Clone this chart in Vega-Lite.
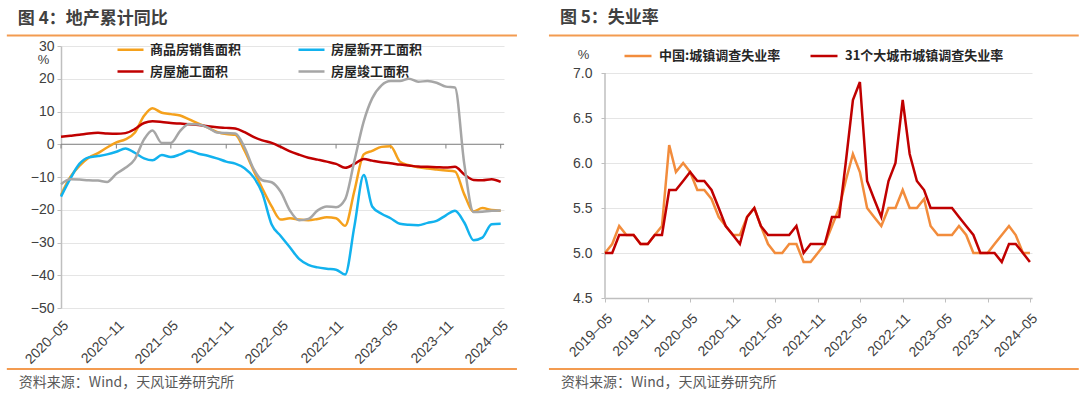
{
  "$schema": "https://vega.github.io/schema/vega-lite/v6.json",
  "background": "white",
  "padding": {"left": 5, "top": 9, "right": 0, "bottom": 0},
  "config": {
    "view": {"stroke": null},
    "font": "Liberation Sans",
    "axis": {"labelFont": "Liberation Sans", "labelFontSize": 14, "labelColor": "#404040", "titleFont": "Liberation Sans"},
    "legend": {"labelFont": "Noto Sans CJK SC"}
  },
  "resolve": {"scale": {"x": "independent", "y": "independent", "color": "independent"}, "legend": {"color": "independent"}, "axis": {"x": "independent", "y": "independent"}},
  "columns": 2,
  "align": "none",
  "spacing": 29,
  "concat": [
    {
      "width": 443,
      "height": 262,
      "title": {"text": "图 4：地产累计同比", "anchor": "start", "frame": "bounds", "font": "Noto Sans CJK SC", "fontSize": 17, "fontWeight": "bold", "color": "#404040", "dx": 12, "offset": 7},
      "layer": [
        {
          "data": {"values": [{}]},
          "mark": {"type": "rule", "color": "#808080", "strokeWidth": 1},
          "encoding": {
            "y": {
              "datum": 0, "type": "quantitative",
              "scale": {"domain": [-50, 30], "nice": false, "zero": false},
              "axis": {
                "tickCount": 9, "values": [-50, -40, -30, -20, -10, 0, 10, 20, 30],
                "grid": true, "gridColor": "#E5E5E5", "domainColor": "#BFBFBF", "domainWidth": 1.5,
                "tickColor": "#BFBFBF", "tickSize": 4, "labelPadding": 3, "labelOverlap": false, "labelSeparation": 0, "labelBound": false,
                "title": "%", "titleAngle": 0, "titleX": -18, "titleY": 13, "titleAlign": "center", "titleBaseline": "middle",
                "titleFontSize": 13, "titleFontWeight": "normal", "titleColor": "#404040"
              }
            }
          }
        },
        {
          "data": {"values": [{"t": "2020-05-01"}, {"t": "2020-11-01"}, {"t": "2021-05-01"}, {"t": "2021-11-01"}, {"t": "2022-05-01"}, {"t": "2022-11-01"}, {"t": "2023-05-01"}, {"t": "2023-11-01"}, {"t": "2024-05-01"}]},
          "mark": {"type": "rule", "color": "#808080", "strokeWidth": 1},
          "encoding": {
            "x": {"field": "t", "type": "temporal", "scale": {"type": "utc", "domain": [{"year": 2020, "month": 5, "date": 1, "utc": true}, {"year": 2024, "month": 5, "date": 12, "utc": true}], "nice": false}},
            "y": {"datum": 0, "type": "quantitative", "scale": {"domain": [-50, 30], "nice": false, "zero": false}},
            "y2": {"datum": -1.3}
          }
        },
        {
          "data": {"values": [{}]},
          "mark": {"type": "rule", "color": "#F39B50", "strokeWidth": 2},
          "encoding": {
            "x": {"datum": {"year": 2019, "month": 11, "date": 3, "utc": true}, "type": "temporal", "scale": {"type": "utc", "domain": [{"year": 2020, "month": 5, "date": 1, "utc": true}, {"year": 2024, "month": 5, "date": 12, "utc": true}], "nice": false}},
            "x2": {"datum": {"year": 2024, "month": 6, "date": 24, "utc": true}},
            "y": {"datum": 33.2, "type": "quantitative", "scale": {"domain": [-50, 30], "nice": false, "zero": false}}
          }
        },
        {
          "data": {"values": [{}]},
          "mark": {"type": "rule", "color": "#F39B50", "strokeWidth": 2},
          "encoding": {
            "x": {"datum": {"year": 2019, "month": 11, "date": 3, "utc": true}, "type": "temporal", "scale": {"type": "utc", "domain": [{"year": 2020, "month": 5, "date": 1, "utc": true}, {"year": 2024, "month": 5, "date": 12, "utc": true}], "nice": false}},
            "x2": {"datum": {"year": 2024, "month": 6, "date": 24, "utc": true}},
            "y": {"datum": -68.6, "type": "quantitative", "scale": {"domain": [-50, 30], "nice": false, "zero": false}}
          }
        },
        {
          "data": {"values": [{"t": "资料来源：Wind，天风证券研究所"}]},
          "mark": {"type": "text", "align": "left", "baseline": "middle", "font": "Noto Sans CJK SC", "fontSize": 14, "color": "#595959"},
          "encoding": {
            "text": {"field": "t"},
            "x": {"datum": {"year": 2019, "month": 12, "date": 13, "utc": true}, "type": "temporal", "scale": {"type": "utc", "domain": [{"year": 2020, "month": 5, "date": 1, "utc": true}, {"year": 2024, "month": 5, "date": 12, "utc": true}], "nice": false}},
            "y": {"datum": -72.9, "type": "quantitative", "scale": {"domain": [-50, 30], "nice": false, "zero": false}}
          }
        },
        {
          "data": {"values": [
            {"d": "2020-05-01", "商品房销售面积": -15.5, "房屋新开工面积": -16.0, "房屋施工面积": 2.3, "房屋竣工面积": -12.2},
            {"d": "2020-06-01", "商品房销售面积": -10.0, "房屋新开工面积": -10.5, "房屋施工面积": 2.6, "房屋竣工面积": -10.7},
            {"d": "2020-07-01", "商品房销售面积": -6.6, "房屋新开工面积": -6.0, "房屋施工面积": 2.9, "房屋竣工面积": -10.8},
            {"d": "2020-08-01", "商品房销售面积": -4.1, "房屋新开工面积": -4.0, "房屋施工面积": 3.3, "房屋竣工面积": -11.0},
            {"d": "2020-09-01", "商品房销售面积": -2.7, "房屋新开工面积": -3.6, "房屋施工面积": 3.5, "房屋竣工面积": -11.1},
            {"d": "2020-10-01", "商品房销售面积": -1.0, "房屋新开工面积": -3.1, "房屋施工面积": 3.3, "房屋竣工面积": -11.5},
            {"d": "2020-11-01", "商品房销售面积": 0.6, "房屋新开工面积": -2.3, "房屋施工面积": 3.2, "房屋竣工面积": -9.0},
            {"d": "2020-12-01", "商品房销售面积": 1.5, "房屋新开工面积": -1.3, "房屋施工面积": 3.4, "房屋竣工面积": -7.2},
            {"d": "2021-01-01", "商品房销售面积": 3.5, "房屋新开工面积": -2.6, "房屋施工面积": 4.6, "房屋竣工面积": -4.6},
            {"d": "2021-02-01", "商品房销售面积": 8.7, "房屋新开工面积": -4.3, "房屋施工面积": 6.5, "房屋竣工面积": 1.5},
            {"d": "2021-03-01", "商品房销售面积": 11.0, "房屋新开工面积": -4.9, "房屋施工面积": 7.0, "房屋竣工面积": 4.2},
            {"d": "2021-04-01", "商品房销售面积": 9.6, "房屋新开工面积": -3.3, "房屋施工面积": 6.8, "房屋竣工面积": 0.4},
            {"d": "2021-05-01", "商品房销售面积": 9.2, "房屋新开工面积": -3.9, "房屋施工面积": 6.5, "房屋竣工面积": 0.4},
            {"d": "2021-06-01", "商品房销售面积": 8.8, "房屋新开工面积": -3.1, "房屋施工面积": 6.3, "房屋竣工面积": 4.1},
            {"d": "2021-07-01", "商品房销售面积": 7.6, "房屋新开工面积": -2.0, "房屋施工面积": 6.1, "房屋竣工面积": 6.2},
            {"d": "2021-08-01", "商品房销售面积": 6.3, "房屋新开工面积": -2.9, "房屋施工面积": 5.9, "房屋竣工面积": 6.0},
            {"d": "2021-09-01", "商品房销售面积": 5.1, "房屋新开工面积": -3.5, "房屋施工面积": 5.5, "房屋竣工面积": 5.1},
            {"d": "2021-10-01", "商品房销售面积": 3.8, "房屋新开工面积": -4.3, "房屋施工面积": 5.2, "房屋竣工面积": 3.6},
            {"d": "2021-11-01", "商品房销售面积": 3.1, "房屋新开工面积": -5.3, "房屋施工面积": 5.0, "房屋竣工面积": 3.4},
            {"d": "2021-12-01", "商品房销售面积": 2.9, "房屋新开工面积": -5.9, "房屋施工面积": 4.8, "房屋竣工面积": 3.3},
            {"d": "2022-01-01", "商品房销售面积": -2.0, "房屋新开工面积": -7.3, "房屋施工面积": 3.7, "房屋竣工面积": -1.0},
            {"d": "2022-02-01", "商品房销售面积": -8.2, "房屋新开工面积": -10.2, "房屋施工面积": 2.2, "房屋竣工面积": -7.7},
            {"d": "2022-03-01", "商品房销售面积": -13.5, "房屋新开工面积": -15.0, "房屋施工面积": 1.2, "房屋竣工面积": -11.0},
            {"d": "2022-04-01", "商品房销售面积": -19.0, "房屋新开工面积": -24.5, "房屋施工面积": 0.4, "房屋竣工面积": -11.6},
            {"d": "2022-05-01", "商品房销售面积": -23.0, "房屋新开工面积": -28.0, "房屋施工面积": -0.8, "房屋竣工面积": -14.5},
            {"d": "2022-06-01", "商品房销售面积": -22.6, "房屋新开工面积": -31.5, "房屋施工面积": -2.2, "房屋竣工面积": -20.3},
            {"d": "2022-07-01", "商品房销售面积": -23.0, "房屋新开工面积": -35.0, "房屋施工面积": -3.2, "房屋竣工面积": -23.2},
            {"d": "2022-08-01", "商品房销售面积": -23.2, "房屋新开工面积": -36.8, "房屋施工面积": -4.1, "房屋竣工面积": -22.8},
            {"d": "2022-09-01", "商品房销售面积": -22.8, "房屋新开工面积": -37.6, "房屋施工面积": -4.7, "房屋竣工面积": -20.2},
            {"d": "2022-10-01", "商品房销售面积": -22.3, "房屋新开工面积": -38.0, "房屋施工面积": -5.3, "房屋竣工面积": -19.0},
            {"d": "2022-11-01", "商品房销售面积": -22.6, "房屋新开工面积": -38.3, "房屋施工面积": -6.0, "房屋竣工面积": -19.2},
            {"d": "2022-12-01", "商品房销售面积": -24.9, "房屋新开工面积": -39.8, "房屋施工面积": -7.2, "房屋竣工面积": -16.8},
            {"d": "2023-01-01", "商品房销售面积": -14.2, "房屋新开工面积": -25.0, "房屋施工面积": -6.0, "房屋竣工面积": -5.0},
            {"d": "2023-02-01", "商品房销售面积": -3.1, "房屋新开工面积": -9.4, "房屋施工面积": -4.5, "房屋竣工面积": 7.0},
            {"d": "2023-03-01", "商品房销售面积": -2.0, "房屋新开工面积": -19.0, "房屋施工面积": -5.0, "房屋竣工面积": 14.0},
            {"d": "2023-04-01", "商品房销售面积": -0.8, "房屋新开工面积": -21.2, "房屋施工面积": -5.5, "房屋竣工面积": 18.0},
            {"d": "2023-05-01", "商品房销售面积": -0.6, "房屋新开工面积": -22.6, "房屋施工面积": -5.8, "房屋竣工面积": 19.3},
            {"d": "2023-06-01", "商品房销售面积": -5.3, "房屋新开工面积": -24.3, "房屋施工面积": -6.2, "房屋竣工面积": 19.3},
            {"d": "2023-07-01", "商品房销售面积": -6.4, "房屋新开工面积": -24.6, "房屋施工面积": -6.5, "房屋竣工面积": 20.0},
            {"d": "2023-08-01", "商品房销售面积": -7.0, "房屋新开工面积": -24.7, "房屋施工面积": -6.8, "房屋竣工面积": 19.1},
            {"d": "2023-09-01", "商品房销售面积": -7.4, "房屋新开工面积": -24.0, "房屋施工面积": -6.9, "房屋竣工面积": 19.3},
            {"d": "2023-10-01", "商品房销售面积": -7.7, "房屋新开工面积": -23.4, "房屋施工面积": -7.0, "房屋竣工面积": 18.8},
            {"d": "2023-11-01", "商品房销售面积": -8.0, "房屋新开工面积": -21.7, "房屋施工面积": -7.1, "房屋竣工面积": 17.6},
            {"d": "2023-12-01", "商品房销售面积": -8.3, "房屋新开工面积": -20.3, "房屋施工面积": -6.9, "房屋竣工面积": 17.3},
            {"d": "2024-01-01", "商品房销售面积": -15.3, "房屋新开工面积": -23.9, "房屋施工面积": -9.2, "房屋竣工面积": -6.0},
            {"d": "2024-02-01", "商品房销售面积": -20.5, "房屋新开工面积": -29.3, "房屋施工面积": -10.9, "房屋竣工面积": -20.7},
            {"d": "2024-03-01", "商品房销售面积": -19.5, "房屋新开工面积": -28.5, "房屋施工面积": -11.0, "房屋竣工面积": -20.6},
            {"d": "2024-04-01", "商品房销售面积": -20.1, "房屋新开工面积": -24.4, "房屋施工面积": -10.7, "房屋竣工面积": -20.3},
            {"d": "2024-05-01", "商品房销售面积": -20.3, "房屋新开工面积": -24.3, "房屋施工面积": -11.5, "房屋竣工面积": -20.2}
          ]},
          "transform": [{"fold": ["商品房销售面积", "房屋新开工面积", "房屋施工面积", "房屋竣工面积"], "as": ["series", "value"]}],
          "mark": {"type": "line", "interpolate": "monotone", "strokeWidth": 2.5},
          "encoding": {
            "x": {
              "field": "d", "type": "temporal",
              "scale": {"type": "utc", "domain": [{"year": 2020, "month": 5, "date": 1, "utc": true}, {"year": 2024, "month": 5, "date": 12, "utc": true}], "nice": false},
              "axis": {
                "values": [
                  {"year": 2020, "month": 5, "date": 1, "utc": true}, {"year": 2020, "month": 11, "date": 1, "utc": true},
                  {"year": 2021, "month": 5, "date": 1, "utc": true}, {"year": 2021, "month": 11, "date": 1, "utc": true},
                  {"year": 2022, "month": 5, "date": 1, "utc": true}, {"year": 2022, "month": 11, "date": 1, "utc": true},
                  {"year": 2023, "month": 5, "date": 1, "utc": true}, {"year": 2023, "month": 11, "date": 1, "utc": true},
                  {"year": 2024, "month": 5, "date": 1, "utc": true}
                ],
                "format": "%Y–%m", "labelAngle": -45, "domain": false, "ticks": false, "grid": false,
                "labelPadding": 10, "labelDx": 3, "labelOverlap": false, "labelFlush": false, "labelBound": false, "title": null
              }
            },
            "y": {
              "field": "value", "type": "quantitative",
              "scale": {"domain": [-50, 30], "nice": false, "zero": false},
              "axis": {
                "tickCount": 9, "values": [-50, -40, -30, -20, -10, 0, 10, 20, 30],
                "grid": true, "gridColor": "#E5E5E5", "domainColor": "#BFBFBF", "domainWidth": 1.5,
                "tickColor": "#BFBFBF", "tickSize": 4, "labelPadding": 3, "labelOverlap": false, "labelSeparation": 0, "labelBound": false,
                "title": "%", "titleAngle": 0, "titleX": -18, "titleY": 13, "titleAlign": "center", "titleBaseline": "middle",
                "titleFontSize": 13, "titleFontWeight": "normal", "titleColor": "#404040"
              }
            },
            "color": {
              "field": "series", "type": "nominal",
              "scale": {"domain": ["商品房销售面积", "房屋新开工面积", "房屋施工面积", "房屋竣工面积"], "range": ["#F5A11C", "#12B2EE", "#C00000", "#A6A6A6"]},
              "legend": {
                "title": null, "orient": "none", "legendX": 55, "legendY": -11, "direction": "horizontal", "columns": 2,
                "columnPadding": 51, "rowPadding": -6, "symbolType": "stroke", "symbolSize": 676, "symbolStrokeWidth": 2.5,
                "labelFont": "Noto Sans CJK SC", "labelFontSize": 13, "labelFontWeight": "bold", "labelColor": "#262626",
                "labelOffset": 5, "labelLimit": 300, "padding": 0
              }
            }
          }
        }
      ]
    },
    {
      "width": 427,
      "height": 252,
      "title": {"text": "图 5：失业率", "anchor": "start", "frame": "bounds", "font": "Noto Sans CJK SC", "fontSize": 17, "fontWeight": "bold", "color": "#404040", "dx": 12, "offset": 7},
      "layer": [
        {
          "data": {"values": [{}]},
          "mark": {"type": "rule", "color": "#BFBFBF", "strokeWidth": 1.5},
          "encoding": {
            "x": {"datum": {"year": 2019, "month": 5, "date": 1, "utc": true}, "type": "temporal", "scale": {"type": "utc", "domain": [{"year": 2019, "month": 5, "date": 1, "utc": true}, {"year": 2024, "month": 5, "date": 10, "utc": true}], "nice": false}},
            "y": {
              "datum": 4.5, "type": "quantitative",
              "scale": {"domain": [4.5, 7.3], "nice": false, "zero": false},
              "axis": {
                "values": [4.5, 5.0, 5.5, 6.0, 6.5, 7.0], "format": ".1f",
                "grid": true, "gridColor": "#E5E5E5", "domain": false,
                "tickColor": "#BFBFBF", "tickSize": 4, "labelPadding": 9, "labelOverlap": false,
                "title": "%", "titleAngle": 0, "titleX": -22, "titleY": 8, "titleAlign": "center", "titleBaseline": "middle",
                "titleFontSize": 13, "titleFontWeight": "normal", "titleColor": "#404040"
              }
            },
            "y2": {"datum": 7.0}
          }
        },
        {
          "data": {"values": [{}]},
          "mark": {"type": "rule", "color": "#F39B50", "strokeWidth": 2},
          "encoding": {
            "x": {"datum": {"year": 2018, "month": 9, "date": 2, "utc": true}, "type": "temporal", "scale": {"type": "utc", "domain": [{"year": 2019, "month": 5, "date": 1, "utc": true}, {"year": 2024, "month": 5, "date": 10, "utc": true}], "nice": false}},
            "x2": {"datum": {"year": 2024, "month": 11, "date": 27, "utc": true}},
            "y": {"datum": 7.4167, "type": "quantitative", "scale": {"domain": [4.5, 7.3], "nice": false, "zero": false}}
          }
        },
        {
          "data": {"values": [{}]},
          "mark": {"type": "rule", "color": "#F39B50", "strokeWidth": 2},
          "encoding": {
            "x": {"datum": {"year": 2018, "month": 9, "date": 2, "utc": true}, "type": "temporal", "scale": {"type": "utc", "domain": [{"year": 2019, "month": 5, "date": 1, "utc": true}, {"year": 2024, "month": 5, "date": 10, "utc": true}], "nice": false}},
            "x2": {"datum": {"year": 2024, "month": 11, "date": 27, "utc": true}},
            "y": {"datum": 3.711, "type": "quantitative", "scale": {"domain": [4.5, 7.3], "nice": false, "zero": false}}
          }
        },
        {
          "data": {"values": [{"t": "资料来源：Wind，天风证券研究所"}]},
          "mark": {"type": "text", "align": "left", "baseline": "middle", "font": "Noto Sans CJK SC", "fontSize": 14, "color": "#595959"},
          "encoding": {
            "text": {"field": "t"},
            "x": {"datum": {"year": 2018, "month": 10, "date": 24, "utc": true}, "type": "temporal", "scale": {"type": "utc", "domain": [{"year": 2019, "month": 5, "date": 1, "utc": true}, {"year": 2024, "month": 5, "date": 10, "utc": true}], "nice": false}},
            "y": {"datum": 3.556, "type": "quantitative", "scale": {"domain": [4.5, 7.3], "nice": false, "zero": false}}
          }
        },
        {
          "data": {"values": [
            {"d": "2019-05-01", "中国:城镇调查失业率": 5.0, "31个大城市城镇调查失业率": 5.0},
            {"d": "2019-06-01", "中国:城镇调查失业率": 5.1, "31个大城市城镇调查失业率": 5.0},
            {"d": "2019-07-01", "中国:城镇调查失业率": 5.3, "31个大城市城镇调查失业率": 5.2},
            {"d": "2019-08-01", "中国:城镇调查失业率": 5.2, "31个大城市城镇调查失业率": 5.2},
            {"d": "2019-09-01", "中国:城镇调查失业率": 5.2, "31个大城市城镇调查失业率": 5.2},
            {"d": "2019-10-01", "中国:城镇调查失业率": 5.1, "31个大城市城镇调查失业率": 5.1},
            {"d": "2019-11-01", "中国:城镇调查失业率": 5.1, "31个大城市城镇调查失业率": 5.1},
            {"d": "2019-12-01", "中国:城镇调查失业率": 5.2, "31个大城市城镇调查失业率": 5.2},
            {"d": "2020-01-01", "中国:城镇调查失业率": 5.3, "31个大城市城镇调查失业率": 5.2},
            {"d": "2020-02-01", "中国:城镇调查失业率": 6.2, "31个大城市城镇调查失业率": 5.7},
            {"d": "2020-03-01", "中国:城镇调查失业率": 5.9, "31个大城市城镇调查失业率": 5.7},
            {"d": "2020-04-01", "中国:城镇调查失业率": 6.0, "31个大城市城镇调查失业率": 5.8},
            {"d": "2020-05-01", "中国:城镇调查失业率": 5.9, "31个大城市城镇调查失业率": 5.9},
            {"d": "2020-06-01", "中国:城镇调查失业率": 5.7, "31个大城市城镇调查失业率": 5.8},
            {"d": "2020-07-01", "中国:城镇调查失业率": 5.7, "31个大城市城镇调查失业率": 5.8},
            {"d": "2020-08-01", "中国:城镇调查失业率": 5.6, "31个大城市城镇调查失业率": 5.7},
            {"d": "2020-09-01", "中国:城镇调查失业率": 5.4, "31个大城市城镇调查失业率": 5.5},
            {"d": "2020-10-01", "中国:城镇调查失业率": 5.3, "31个大城市城镇调查失业率": 5.3},
            {"d": "2020-11-01", "中国:城镇调查失业率": 5.2, "31个大城市城镇调查失业率": 5.2},
            {"d": "2020-12-01", "中国:城镇调查失业率": 5.2, "31个大城市城镇调查失业率": 5.1},
            {"d": "2021-01-01", "中国:城镇调查失业率": 5.4, "31个大城市城镇调查失业率": 5.4},
            {"d": "2021-02-01", "中国:城镇调查失业率": 5.5, "31个大城市城镇调查失业率": 5.5},
            {"d": "2021-03-01", "中国:城镇调查失业率": 5.3, "31个大城市城镇调查失业率": 5.3},
            {"d": "2021-04-01", "中国:城镇调查失业率": 5.1, "31个大城市城镇调查失业率": 5.2},
            {"d": "2021-05-01", "中国:城镇调查失业率": 5.0, "31个大城市城镇调查失业率": 5.2},
            {"d": "2021-06-01", "中国:城镇调查失业率": 5.0, "31个大城市城镇调查失业率": 5.2},
            {"d": "2021-07-01", "中国:城镇调查失业率": 5.1, "31个大城市城镇调查失业率": 5.2},
            {"d": "2021-08-01", "中国:城镇调查失业率": 5.1, "31个大城市城镇调查失业率": 5.3},
            {"d": "2021-09-01", "中国:城镇调查失业率": 4.9, "31个大城市城镇调查失业率": 5.0},
            {"d": "2021-10-01", "中国:城镇调查失业率": 4.9, "31个大城市城镇调查失业率": 5.1},
            {"d": "2021-11-01", "中国:城镇调查失业率": 5.0, "31个大城市城镇调查失业率": 5.1},
            {"d": "2021-12-01", "中国:城镇调查失业率": 5.1, "31个大城市城镇调查失业率": 5.1},
            {"d": "2022-01-01", "中国:城镇调查失业率": 5.3, "31个大城市城镇调查失业率": 5.4},
            {"d": "2022-02-01", "中国:城镇调查失业率": 5.5, "31个大城市城镇调查失业率": 5.4},
            {"d": "2022-03-01", "中国:城镇调查失业率": 5.8, "31个大城市城镇调查失业率": 6.0},
            {"d": "2022-04-01", "中国:城镇调查失业率": 6.1, "31个大城市城镇调查失业率": 6.7},
            {"d": "2022-05-01", "中国:城镇调查失业率": 5.9, "31个大城市城镇调查失业率": 6.9},
            {"d": "2022-06-01", "中国:城镇调查失业率": 5.5, "31个大城市城镇调查失业率": 5.8},
            {"d": "2022-07-01", "中国:城镇调查失业率": 5.4, "31个大城市城镇调查失业率": 5.6},
            {"d": "2022-08-01", "中国:城镇调查失业率": 5.3, "31个大城市城镇调查失业率": 5.4},
            {"d": "2022-09-01", "中国:城镇调查失业率": 5.5, "31个大城市城镇调查失业率": 5.8},
            {"d": "2022-10-01", "中国:城镇调查失业率": 5.5, "31个大城市城镇调查失业率": 6.0},
            {"d": "2022-11-01", "中国:城镇调查失业率": 5.7, "31个大城市城镇调查失业率": 6.7},
            {"d": "2022-12-01", "中国:城镇调查失业率": 5.5, "31个大城市城镇调查失业率": 6.1},
            {"d": "2023-01-01", "中国:城镇调查失业率": 5.5, "31个大城市城镇调查失业率": 5.8},
            {"d": "2023-02-01", "中国:城镇调查失业率": 5.6, "31个大城市城镇调查失业率": 5.7},
            {"d": "2023-03-01", "中国:城镇调查失业率": 5.3, "31个大城市城镇调查失业率": 5.5},
            {"d": "2023-04-01", "中国:城镇调查失业率": 5.2, "31个大城市城镇调查失业率": 5.5},
            {"d": "2023-05-01", "中国:城镇调查失业率": 5.2, "31个大城市城镇调查失业率": 5.5},
            {"d": "2023-06-01", "中国:城镇调查失业率": 5.2, "31个大城市城镇调查失业率": 5.5},
            {"d": "2023-07-01", "中国:城镇调查失业率": 5.3, "31个大城市城镇调查失业率": 5.4},
            {"d": "2023-08-01", "中国:城镇调查失业率": 5.2, "31个大城市城镇调查失业率": 5.3},
            {"d": "2023-09-01", "中国:城镇调查失业率": 5.0, "31个大城市城镇调查失业率": 5.2},
            {"d": "2023-10-01", "中国:城镇调查失业率": 5.0, "31个大城市城镇调查失业率": 5.0},
            {"d": "2023-11-01", "中国:城镇调查失业率": 5.0, "31个大城市城镇调查失业率": 5.0},
            {"d": "2023-12-01", "中国:城镇调查失业率": 5.1, "31个大城市城镇调查失业率": 5.0},
            {"d": "2024-01-01", "中国:城镇调查失业率": 5.2, "31个大城市城镇调查失业率": 4.9},
            {"d": "2024-02-01", "中国:城镇调查失业率": 5.3, "31个大城市城镇调查失业率": 5.1},
            {"d": "2024-03-01", "中国:城镇调查失业率": 5.2, "31个大城市城镇调查失业率": 5.1},
            {"d": "2024-04-01", "中国:城镇调查失业率": 5.0, "31个大城市城镇调查失业率": 5.0},
            {"d": "2024-05-01", "中国:城镇调查失业率": 5.0, "31个大城市城镇调查失业率": 4.9}
          ]},
          "transform": [{"fold": ["中国:城镇调查失业率", "31个大城市城镇调查失业率"], "as": ["series", "value"]}],
          "mark": {"type": "line", "strokeWidth": 2.5},
          "encoding": {
            "x": {
              "field": "d", "type": "temporal",
              "scale": {"type": "utc", "domain": [{"year": 2019, "month": 5, "date": 1, "utc": true}, {"year": 2024, "month": 5, "date": 10, "utc": true}], "nice": false},
              "axis": {
                "values": [
                  {"year": 2019, "month": 5, "date": 1, "utc": true}, {"year": 2019, "month": 11, "date": 1, "utc": true},
                  {"year": 2020, "month": 5, "date": 1, "utc": true}, {"year": 2020, "month": 11, "date": 1, "utc": true},
                  {"year": 2021, "month": 5, "date": 1, "utc": true}, {"year": 2021, "month": 11, "date": 1, "utc": true},
                  {"year": 2022, "month": 5, "date": 1, "utc": true}, {"year": 2022, "month": 11, "date": 1, "utc": true},
                  {"year": 2023, "month": 5, "date": 1, "utc": true}, {"year": 2023, "month": 11, "date": 1, "utc": true},
                  {"year": 2024, "month": 5, "date": 1, "utc": true}
                ],
                "format": "%Y–%m", "labelAngle": -45, "domain": true, "domainColor": "#BFBFBF", "domainWidth": 1.5,
                "ticks": true, "tickColor": "#BFBFBF", "tickSize": 4, "grid": false,
                "labelPadding": 9, "labelDx": 3, "labelOverlap": false, "labelFlush": false, "labelBound": false, "title": null
              }
            },
            "y": {
              "field": "value", "type": "quantitative",
              "scale": {"domain": [4.5, 7.3], "nice": false, "zero": false},
              "axis": {
                "values": [4.5, 5.0, 5.5, 6.0, 6.5, 7.0], "format": ".1f",
                "grid": true, "gridColor": "#E5E5E5", "domain": false,
                "tickColor": "#BFBFBF", "tickSize": 4, "labelPadding": 9, "labelOverlap": false,
                "title": "%", "titleAngle": 0, "titleX": -22, "titleY": 8, "titleAlign": "center", "titleBaseline": "middle",
                "titleFontSize": 13, "titleFontWeight": "normal", "titleColor": "#404040"
              }
            },
            "color": {
              "field": "series", "type": "nominal",
              "scale": {"domain": ["中国:城镇调查失业率", "31个大城市城镇调查失业率"], "range": ["#F28C3C", "#C00000"]},
              "legend": {
                "title": null, "orient": "none", "legendX": 18, "legendY": -5, "direction": "horizontal",
                "columnPadding": 24, "symbolType": "stroke", "symbolSize": 729, "symbolStrokeWidth": 2.5,
                "labelFont": "Noto Sans CJK SC", "labelFontSize": 13, "labelFontWeight": "bold", "labelColor": "#262626",
                "labelOffset": 6, "labelLimit": 300, "padding": 0
              }
            }
          }
        }
      ]
    }
  ]
}
